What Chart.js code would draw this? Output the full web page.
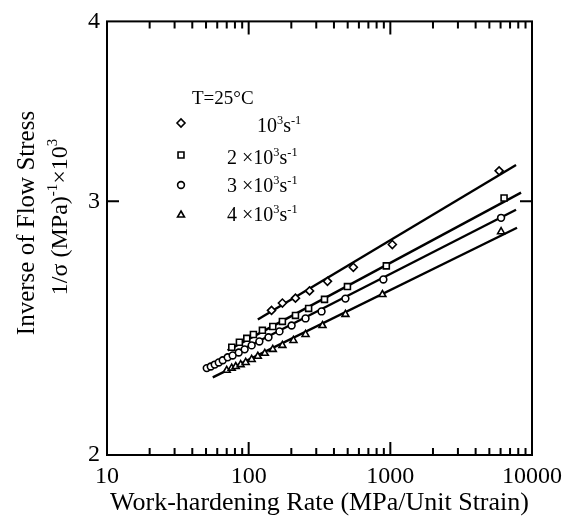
<!DOCTYPE html>
<html>
<head>
<meta charset="utf-8">
<script src="https://cdn.jsdelivr.net/npm/chart.js@4.4.0/dist/chart.umd.min.js"></script>
<style>
  html, body { margin: 0; padding: 0; background: #fff; }
</style>
</head>
<body>
<canvas id="myChart" width="569" height="527"></canvas>
<script>
// work-hardening rate (MPa/unit strain) vs 1/sigma (x10^3), one pair per strain rate
const rate1X = [145, 173, 214, 269, 360, 548, 1033, 5860];
const rate1Y = [2.52, 2.55, 2.57, 2.60, 2.64, 2.70, 2.80, 3.15];
const rate2X = [76, 86, 97, 108, 125, 148, 173, 214, 265, 343, 498, 937, 6350];
const rate2Y = [2.376, 2.395, 2.41, 2.425, 2.441, 2.456, 2.476, 2.50, 2.528, 2.565, 2.618, 2.706, 3.016];
const rate3X = [50.6, 54, 57.6, 61.5, 65.6, 71.1, 77.1, 85.1, 93.7, 105, 119, 138, 165, 201, 252, 327, 482, 893, 6050];
const rate3Y = [2.298, 2.304, 2.311, 2.319, 2.327, 2.338, 2.345, 2.356, 2.368, 2.383, 2.398, 2.414, 2.437, 2.46, 2.488, 2.516, 2.568, 2.648, 2.922];
const rate4X = [70, 75.9, 81, 87.8, 95.3, 105, 116, 130, 148, 173, 207, 252, 332, 482, 879, 6050];
const rate4Y = [2.29, 2.298, 2.304, 2.311, 2.319, 2.33, 2.342, 2.353, 2.368, 2.383, 2.402, 2.425, 2.46, 2.504, 2.585, 2.858];

// fitted straight lines (end points)
const fit1X = [116, 7715];
const fit1Y = [2.484, 3.18];
const fit2X = [71, 8370];
const fit2Y = [2.364, 3.042];
const fit3X = [48.2, 7715];
const fit3Y = [2.294, 2.96];
const fit4X = [55.8, 7840];
const fit4Y = [2.264, 2.876];

const xTicks = [10, 100, 1000, 10000];
const yTicks = [2, 3, 4];
const pointStyles = ["rectRot", "rect", "circle", "triangle"];
const xTitle = "Work-hardening Rate (MPa/Unit Strain)";
const yTitle1 = "Inverse of Flow Stress";
const yTitle2 = [["1/σ (MPa)", 0], ["-1", 1], ["×10", 0], ["3", 1]];
const legendTitle = "T=25°C";
const legendLabels = [
  [["10", 0], ["3", 1], ["s", 0], ["-1", 1]],
  [["2 ×10", 0], ["3", 1], ["s", 0], ["-1", 1]],
  [["3 ×10", 0], ["3", 1], ["s", 0], ["-1", 1]],
  [["4 ×10", 0], ["3", 1], ["s", 0], ["-1", 1]],
];

const serif = '"Liberation Serif", "Times New Roman", serif';
const zip = (xs, ys) => xs.map((x, i) => ({ x: x, y: ys[i] }));
const radii = { rectRot: 4, rect: 4.2, circle: 3.4, triangle: 4 };

const pointSets = [
  [rate1X, rate1Y],
  [rate2X, rate2Y],
  [rate3X, rate3Y],
  [rate4X, rate4Y],
].map(([xs, ys], i) => ({
  data: zip(xs, ys),
  showLine: false,
  pointStyle: pointStyles[i],
  radius: radii[pointStyles[i]],
  borderColor: "#000",
  backgroundColor: "#fff",
  borderWidth: 1.6,
  order: 0,
}));

const lineSets = [
  [fit1X, fit1Y],
  [fit2X, fit2Y],
  [fit3X, fit3Y],
  [fit4X, fit4Y],
].map(([xs, ys]) => ({
  data: zip(xs, ys),
  showLine: true,
  pointRadius: 0,
  borderColor: "#000",
  borderWidth: 2.4,
  order: 1,
}));

function richWidth(ctx, parts, size) {
  let w = 0;
  for (const [t, sup] of parts) {
    ctx.font = (sup ? size * 0.62 : size) + "px " + serif;
    w += ctx.measureText(t).width;
  }
  return w;
}

function drawRich(ctx, parts, x, y, size) {
  let cx = x;
  for (const [t, sup] of parts) {
    ctx.font = (sup ? size * 0.62 : size) + "px " + serif;
    ctx.fillText(t, cx, sup ? y - size * 0.42 : y);
    cx += ctx.measureText(t).width;
  }
}

const framePlugin = {
  id: "frame",
  beforeDatasetsDraw(chart) {
    const { ctx, chartArea: a, scales } = chart;
    const xs = scales.x;
    const ys = scales.y;
    ctx.save();
    ctx.strokeStyle = "#000";
    ctx.lineWidth = 2;
    ctx.strokeRect(a.left, a.top, a.right - a.left, a.bottom - a.top);
    ctx.beginPath();
    for (const d of [10, 100, 1000]) {
      for (let k = 2; k <= 10; k++) {
        const v = k * d;
        if (v >= 10000) continue;
        const px = xs.getPixelForValue(v);
        const len = k === 10 ? 13 : 7;
        ctx.moveTo(px, a.bottom);
        ctx.lineTo(px, a.bottom - len);
        ctx.moveTo(px, a.top);
        ctx.lineTo(px, a.top + len);
      }
    }
    const py = ys.getPixelForValue(3);
    ctx.moveTo(a.left, py);
    ctx.lineTo(a.left + 12, py);
    ctx.moveTo(a.right, py);
    ctx.lineTo(a.right - 12, py);
    ctx.stroke();
    ctx.restore();
  },
  afterDraw(chart) {
    const ctx = chart.ctx;
    ctx.save();
    ctx.fillStyle = "#000";
    ctx.textBaseline = "alphabetic";

    // y axis title, two rotated lines
    ctx.save();
    ctx.translate(34, 223);
    ctx.rotate(-Math.PI / 2);
    ctx.font = "25px " + serif;
    ctx.textAlign = "center";
    ctx.fillText(yTitle1, 0, 0);
    ctx.textAlign = "left";
    const w2 = richWidth(ctx, yTitle2, 24);
    drawRich(ctx, yTitle2, 6 - w2 / 2, 33, 24);
    ctx.restore();

    ctx.font = "19px " + serif;
    ctx.fillText(legendTitle, 192, 104);
    const markerY = [123, 155, 185, 215];
    const textX = [257, 227, 227, 227];
    const textY = [132, 164, 192, 221];
    legendLabels.forEach((parts, i) => {
      ctx.strokeStyle = "#000";
      ctx.fillStyle = "#fff";
      ctx.lineWidth = 1.6;
      Chart.helpers.drawPoint(ctx, { pointStyle: pointStyles[i], radius: radii[pointStyles[i]], borderWidth: 1.6, rotation: 0 }, 181, markerY[i]);
      ctx.fillStyle = "#000";
      drawRich(ctx, parts, textX[i], textY[i], 20);
    });
    ctx.restore();
  },
};

new Chart(document.getElementById("myChart").getContext("2d"), {
  type: "scatter",
  data: { datasets: pointSets.concat(lineSets) },
  options: {
    responsive: false,
    animation: false,
    layout: { padding: { top: 20, right: 35, left: 0, bottom: 0 } },
    plugins: { legend: { display: false }, tooltip: { enabled: false } },
    scales: {
      x: {
        type: "logarithmic",
        min: 10,
        max: 10000,
        afterBuildTicks: (s) => { s.ticks = xTicks.map((v) => ({ value: v })); },
        afterFit: (s) => { s.height = 72; },
        grid: { display: false, drawTicks: false },
        border: { display: false },
        ticks: {
          color: "#000",
          padding: 7,
          maxRotation: 0,
          autoSkip: false,
          font: { family: serif, size: 24 },
          callback: (v) => String(v),
        },
        title: {
          display: true,
          text: xTitle,
          color: "#000",
          font: { family: serif, size: 26, lineHeight: 1.1 },
          padding: { top: 0, bottom: 10 },
        },
      },
      y: {
        type: "logarithmic",
        min: 2,
        max: 4,
        afterBuildTicks: (s) => { s.ticks = yTicks.map((v) => ({ value: v })); },
        afterFit: (s) => { s.width = 107; },
        grid: { display: false, drawTicks: false },
        border: { display: false },
        ticks: {
          color: "#000",
          padding: 7,
          autoSkip: false,
          font: { family: serif, size: 24 },
          callback: (v) => String(v),
        },
      },
    },
  },
  plugins: [framePlugin],
});
</script>
</body>
</html>
